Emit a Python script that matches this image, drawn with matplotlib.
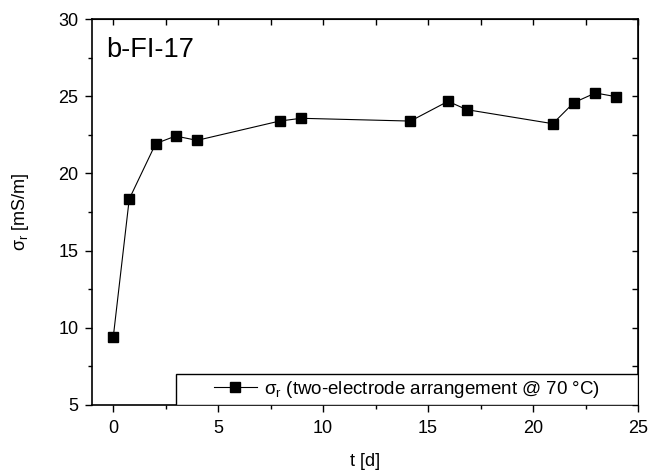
import matplotlib
matplotlib.use("Agg")
import matplotlib.pyplot as plt
from matplotlib.patches import Rectangle
from matplotlib.ticker import MultipleLocator

plt.rcParams['font.family'] = ['Liberation Sans', 'DejaVu Sans']
plt.rcParams['mathtext.fontset'] = 'custom'
plt.rcParams['mathtext.rm'] = 'Liberation Sans'

# data
t_days = [0, 0.76, 2.02, 2.97, 3.99, 7.92, 8.95, 14.16, 15.95, 16.84, 20.94, 21.94, 22.97, 23.95]
sigma_r = [9.42, 18.34, 21.93, 22.42, 22.14, 23.39, 23.57, 23.39, 24.67, 24.13, 23.22, 24.58, 25.21, 24.97]
sample = "b-FI-17"
series_label = r"σ$_\mathregular{r}$ (two-electrode arrangement @ 70 °C)"

fig = plt.figure(figsize=(6.51, 4.72), dpi=100)
ax = fig.add_axes([0.1418, 0.142, 0.8382, 0.8177])

line, = ax.plot(t_days, sigma_r, color='black', lw=0.8, marker='s',
                markersize=6.5, markerfacecolor='black', markeredgecolor='black')

ax.set_xlim(-1, 25)
ax.set_ylim(5, 30)
ax.xaxis.set_major_locator(MultipleLocator(5))
ax.xaxis.set_minor_locator(MultipleLocator(2.5))
ax.yaxis.set_major_locator(MultipleLocator(5))
ax.yaxis.set_minor_locator(MultipleLocator(2.5))

ax.tick_params(which='both', direction='out', top=False, right=False, labelsize=13, width=1)
ax.tick_params(which='major', length=5)
ax.tick_params(which='minor', length=3)
ax.tick_params(axis='x', pad=6)
ax.tick_params(axis='y', pad=5)
# inward ticks on top and right, like Origin
sec_x = ax.secondary_xaxis('top')
sec_x.xaxis.set_major_locator(MultipleLocator(5))
sec_x.xaxis.set_minor_locator(MultipleLocator(2.5))
sec_x.tick_params(which='both', direction='in', labeltop=False, length=4.5, width=1)
sec_y = ax.secondary_yaxis('right')
sec_y.yaxis.set_major_locator(MultipleLocator(5))
sec_y.yaxis.set_minor_locator(MultipleLocator(2.5))
sec_y.tick_params(which='both', direction='in', labelright=False, length=4.5, width=1)

for s in ax.spines.values():
    s.set_linewidth(1.2)

ax.set_xlabel("t [d]", fontsize=13, labelpad=11)
ax.set_ylabel(r"σ$_\mathregular{r}$ [mS/m]", fontsize=13, labelpad=20)

ax.text(0.026, 0.902, sample, transform=ax.transAxes, fontsize=19.5, ha='left', va='baseline')

# legend box spanning to the right edge
ax.add_patch(Rectangle((0.1538, 0), 0.8462, 0.08, transform=ax.transAxes,
                       facecolor='white', edgecolor='black', lw=1, zorder=3))
ax.legend([line], [series_label], loc='center', bbox_to_anchor=(0.5765, 0.04),
          frameon=False, fontsize=13.5, handlelength=2.3, handletextpad=0.4,
          borderpad=0, borderaxespad=0).set_zorder(4)

fig.savefig("out.png", dpi=100)
